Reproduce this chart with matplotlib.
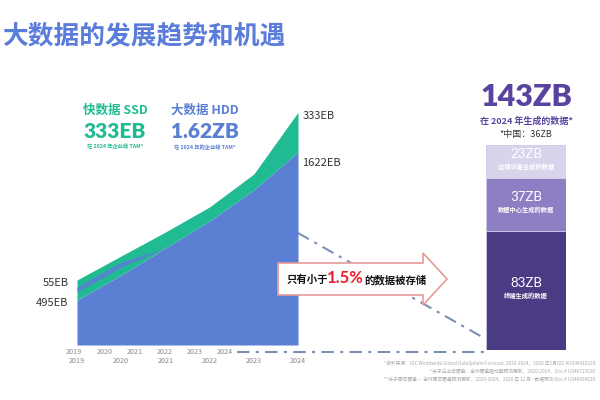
import matplotlib
matplotlib.use("Agg")
import matplotlib.pyplot as plt
from matplotlib.patches import Polygon
import numpy as np

plt.rcParams['font.family'] = ['Noto Sans CJK SC', 'DejaVu Sans']

# ---------------- data ----------------
years = [2019, 2020, 2021, 2022, 2023, 2024]
hdd_eb = [378, 588, 815, 1042, 1302, 1622]      # 大数据 HDD (EB)
ssd_eb = [168, 160, 134, 118, 134, 333]         # 快数据 SSD (EB)
overlay_gap = [67, 67, 0, 0, 0, 0]              # offset of the thin blue band inside SSD
overlay_band = [42, 42, 0, 0, 0, 0]             # thickness of the thin blue band
start_labels = ["55EB", "495EB"]
end_labels = ["333EB", "1622EB"]
tick_row1 = ["2019", "2020", "2021", "2022", "2023", "2024"]
tick_row2 = ["2019", "2020", "2021", "2022", "2023", "2024"]

bar_values = [83, 37, 23]                       # ZB
bar_names = ["终端生成的数据", "数据中心生成的数据", "边缘设备生成的数据"]
bar_total = 143

# ---------------- style ----------------
BLUE = "#5a7fd3"
GREEN = "#20bb92"
TITLE = "#5a7ddc"
PURPLE = ["#4a3b84", "#8e7fc4", "#d9d3ec"]
PURPLE_TXT = "#5a43a0"
DASH = "#7d8fb3"
NUMFONT = ["Lato", "DejaVu Sans"]

fig = plt.figure(figsize=(6, 4), dpi=100)
fig.patch.set_facecolor("white")

# overlay in pixel coordinates
ov = fig.add_axes([0, 0, 1, 1], zorder=0)
ov.set_xlim(0, 600)
ov.set_ylim(400, 0)
ov.axis("off")

# ---------------- area chart ----------------
ax = fig.add_axes([77/600, 55/400, 221/600, 245/400], zorder=1)
hdd = np.array(hdd_eb, float)
ssd = np.array(ssd_eb, float)
gap = np.array(overlay_gap, float)
band = np.array(overlay_band, float)
ax.fill_between(years, 0, hdd, color=BLUE, lw=0)
ax.fill_between(years, hdd, hdd + ssd, color=GREEN, lw=0)
ax.fill_between(years, hdd + gap, hdd + gap + band, color=BLUE, lw=0, alpha=0.9)
ax.set_xlim(years[0], years[-1])
ax.set_ylim(0, 2058)
ax.axis("off")

# tick labels (two staggered rows)
row1_x = np.linspace(years[0], years[0] + (years[-1] - years[0]) * 0.68, len(tick_row1))
for i, lab in enumerate(tick_row1):
    ax.annotate(lab, (row1_x[i], 0), xytext=(-2, -2), textcoords="offset points",
                ha="center", va="top", fontsize=5.2, color="#8a8a8a", annotation_clip=False)
for i, lab in enumerate(tick_row2):
    ax.annotate(lab, (years[i], 0), xytext=(0, -8.5), textcoords="offset points",
                ha="center", va="top", fontsize=5.2, color="#8a8a8a", annotation_clip=False)

# start / end labels
ax.annotate(start_labels[0], (years[0], hdd[0] + ssd[0]), xytext=(-6, -2), textcoords="offset points",
            ha="right", va="center", fontsize=8, color="#333333", annotation_clip=False)
ax.annotate(start_labels[1], (years[0], hdd[0]), xytext=(-6, -2), textcoords="offset points",
            ha="right", va="center", fontsize=8, color="#333333", annotation_clip=False)
ax.annotate(end_labels[0], (years[-1], hdd[-1] + ssd[-1]), xytext=(3, -3), textcoords="offset points",
            ha="left", va="center", fontsize=8, color="#333333", annotation_clip=False)
ax.annotate(end_labels[1], (years[-1], hdd[-1]), xytext=(3, -8), textcoords="offset points",
            ha="left", va="center", fontsize=8, color="#333333", annotation_clip=False)

# ---------------- stacked bar ----------------
bx = fig.add_axes([486/600, 50/400, 80/600, 205/400], zorder=1)
bottom = 0
for v, c, name in zip(bar_values, PURPLE, bar_names):
    bx.bar(0, v, bottom=bottom, width=1.0, color=c, edgecolor="#cfc8e6", lw=0.6)
    mid = bottom + v / 2
    bx.annotate(f"{v}ZB", (0, mid), xytext=(0, 1), textcoords="offset points",
                ha="center", va="bottom", fontsize=9.5, color="white", family=NUMFONT)
    bx.annotate(name, (0, mid), xytext=(0, -1), textcoords="offset points",
                ha="center", va="top", fontsize=4.5, color="white", fontweight="bold")
    bottom += v
bx.set_xlim(-0.5, 0.5)
bx.set_ylim(0, bar_total)
bx.axis("off")

# ---------------- overlay annotations ----------------
ov.text(2, 36, "大数据的发展趋势和机遇", fontsize=18.5, fontweight="bold", color=TITLE,
        ha="left", va="center")

# SSD header
ov.text(115, 110, "快数据 SSD", fontsize=9, fontweight="bold", color=GREEN, ha="center", va="center")
ov.text(115, 131, "333EB", fontsize=15, fontweight="heavy", color=GREEN, ha="center", va="center",
        family=NUMFONT)
ov.text(115, 147, "在 2024 年企业级 TAM*", fontsize=3.8, fontweight="bold", color=GREEN, ha="center", va="center")
# HDD header
ov.text(205, 110, "大数据 HDD", fontsize=9, fontweight="bold", color=BLUE, ha="center", va="center")
ov.text(205, 131, "1.62ZB", fontsize=15, fontweight="heavy", color=BLUE, ha="center", va="center",
        family=NUMFONT)
ov.text(205, 147, "在 2024 年的企业级 TAM*", fontsize=3.8, fontweight="bold", color=BLUE, ha="center", va="center")

# right header
ov.text(526, 97, f"{bar_total}ZB", fontsize=22, fontweight="heavy", color=PURPLE_TXT, ha="center", va="center",
        family=NUMFONT)
ov.text(526, 121, "在 2024 年生成的数据*", fontsize=6.5, fontweight="bold", color=PURPLE_TXT, ha="center", va="center")
ov.text(526, 134, "*中国：36ZB", fontsize=6.5, color="#333333", ha="center", va="center")

# dash-dot guide lines
ov.plot([298, 484], [233, 338], color=DASH, lw=1.5, ls=(0, (6, 3, 1.5, 3)), zorder=2)
ov.plot([237, 484], [352, 352], color=DASH, lw=1.5, ls=(0, (6, 3, 1.5, 3)), zorder=2)

# arrow
arrow = Polygon([(278, 263), (423, 263), (423, 253), (447, 279), (423, 305), (423, 295), (278, 295)],
                closed=True, facecolor="white", edgecolor="#e89a9a", lw=1.2, zorder=5,
                transform=ov.transData)
fig.add_artist(arrow)
arrow.set_zorder(5)
fig.text(287/600, 1 - 280/400, "只有小于", fontsize=7.5, fontweight="bold", color="#111111",
         ha="left", va="center", zorder=6)
fig.text(327/600, 1 - 278/400, "1.5%", fontsize=12, fontweight="bold", color="#e8202a",
         ha="left", va="center", zorder=6, family=NUMFONT)
fig.text(364/600, 1 - 280/400, "的数据被存储", fontsize=7.5, fontweight="bold", color="#111111",
         ha="left", va="center", zorder=6)

# footnotes
notes = ["*资料来源：IDC Worldwide Global DataSphere Forecast, 2019-2024，2020 年5月IDC #US46410220",
         "*关于企业级硬盘：全球硬盘驱动器预测更新，2020-2024，Doc # US46713020",
         "**关于固态硬盘 — 全球固态硬盘预测更新，2020-2024，2020 年 12 月 - 数据预测 Doc # US46956620"]
for i, t in enumerate(notes):
    ov.text(595, 363 + i * 8.5, t, fontsize=3.4, color="#aaaaaa", ha="right", va="center")

fig.savefig("out.png", dpi=100, facecolor="white")
